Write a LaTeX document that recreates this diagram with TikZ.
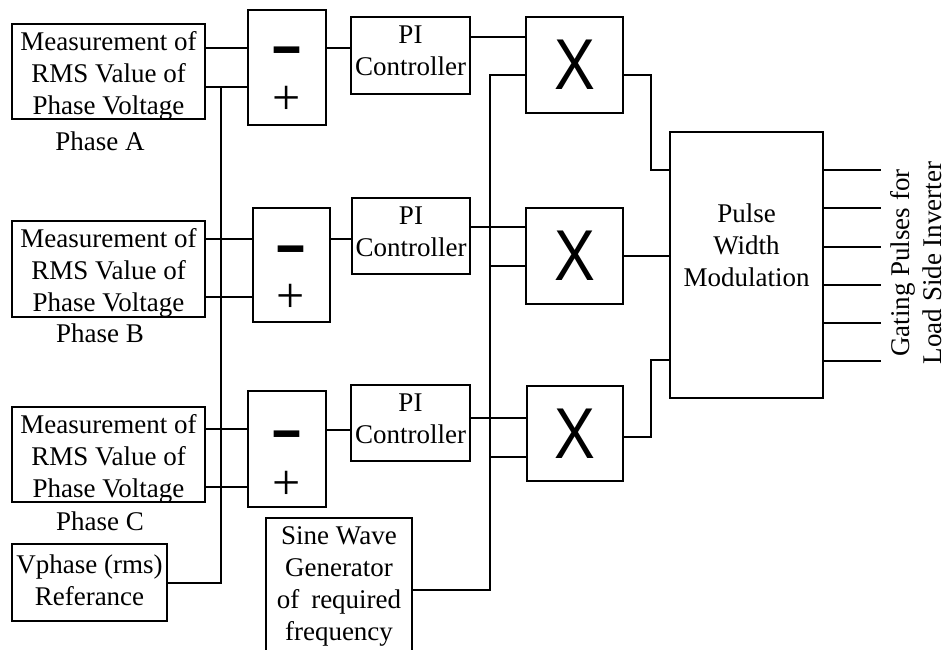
\documentclass[tikz,border=0pt]{standalone}
\usepackage{fontspec}
\usepackage{graphicx}
\setmainfont{Liberation Serif}
\newfontfamily\sansf{Liberation Sans}
\tikzset{
  blk/.style={draw, line width=1.8pt, inner sep=0pt},
  wire/.style={line width=1.8pt},
  txt/.style={inner sep=0pt, align=center, font=\fontsize{27}{32}\selectfont},
  multx/.style={font=\sansf\fontsize{72}{72}\selectfont},
  minussign/.style={inner sep=0pt, anchor=base, font=\sansf\fontsize{84}{84}\selectfont},
  plussign/.style={inner sep=0pt, font=\fontsize{50}{50}\selectfont},
}
\begin{document}
\begin{tikzpicture}[x=1pt,y=-1pt]
\useasboundingbox (0,0) rectangle (946,650);
% measurement boxes
\node[blk, minimum width=193pt, minimum height=95pt] (mA) at (108.5,71.5) {};
\node[txt] (mAt) at (108.5,76.25) {Measurement of\\RMS Value of\\Phase Voltage};
\node[txt] (phA) at (100,140.8) {Phase A};
\node[blk, minimum width=193pt, minimum height=96pt] (mB) at (108.5,269) {};
\node[txt] (mBt) at (108.5,273.25) {Measurement of\\RMS Value of\\Phase Voltage};
\node[txt] (phB) at (100,333) {Phase B};
\node[blk, minimum width=193pt, minimum height=95pt] (mC) at (108.5,454.5) {};
\node[txt] (mCt) at (108.5,459.25) {Measurement of\\RMS Value of\\Phase Voltage};
\node[txt] (phC) at (100,521) {Phase C};
\node[blk, minimum width=155pt, minimum height=77pt] (vref) at (89.5,582.5) {};
\node[txt] (vreft) at (89.5,580.5) {Vphase (rms)\\Referance};
% summing boxes
\node[blk, minimum width=78pt, minimum height=115pt] (sA) at (287,67.5) {};
\node[minussign] (sAm) at (287,73) {\scalebox{1.25}[1]{-}};
\node[plussign] (sAp) at (287,100) {+};
\node[blk, minimum width=77pt, minimum height=114pt] (sB) at (291.5,265) {};
\node[minussign] (sBm) at (291,271) {\scalebox{1.25}[1]{-}};
\node[plussign] (sBp) at (291,298) {+};
\node[blk, minimum width=78pt, minimum height=116pt] (sC) at (287,449) {};
\node[minussign] (sCm) at (287,456) {\scalebox{1.25}[1]{-}};
\node[plussign] (sCp) at (287,485) {+};
% PI controllers
\node[blk, minimum width=119pt, minimum height=77pt] (pA) at (410.5,55.5) {};
\node[txt] (pAt) at (410.5,51) {PI\\Controller};
\node[blk, minimum width=118pt, minimum height=76pt] (pB) at (411,236) {};
\node[txt] (pBt) at (411,232) {PI\\Controller};
\node[blk, minimum width=119pt, minimum height=76pt] (pC) at (410.5,423) {};
\node[txt] (pCt) at (410.5,419) {PI\\Controller};
% multipliers
\node[blk, multx, minimum width=97pt, minimum height=96pt] (xA) at (574.5,65) {\scalebox{0.85}[1]{X}};
\node[blk, multx, minimum width=97pt, minimum height=96pt] (xB) at (574.5,256) {\scalebox{0.85}[1]{X}};
\node[blk, multx, minimum width=96pt, minimum height=95pt] (xC) at (575,433.5) {\scalebox{0.85}[1]{X}};
% sine generator
\node[blk, minimum width=146pt, minimum height=134pt] (sine) at (339,585) {};
\node[txt] (sinet) at (339,586.75) {Sine Wave\\Generator\\of\hspace{12pt}required\\frequency};
% PWM
\node[blk, minimum width=153pt, minimum height=266pt] (pwm) at (746.5,265) {};
\node[txt] (pwmt) at (746.5,244.8) {Pulse\\Width\\Modulation};
\node[txt, rotate=90] (gate) at (915.8,263) {Gating Pulses for\\Load Side Inverter};
% wires: measurement to summing
\draw[wire] (mA.east |- 0,48) -- (sA.west |- 0,48);
\draw[wire] (mA.east |- 0,87) -- (sA.west |- 0,87);
\draw[wire] (mB.east |- 0,239) -- (sB.west |- 0,239);
\draw[wire] (mB.east |- 0,297) -- (sB.west |- 0,297);
\draw[wire] (mC.east |- 0,429) -- (sC.west |- 0,429);
\draw[wire] (mC.east |- 0,487) -- (sC.west |- 0,487);
\coordinate (busTop) at (221,87);
\draw[wire] (vref.east |- 0,583) -| (busTop);
% summing to PI
\draw[wire] (sA.east |- 0,48) -- (pA.west |- 0,48);
\draw[wire] (sB.east |- 0,239) -- (pB.west |- 0,239);
\draw[wire] (sC.east |- 0,430) -- (pC.west |- 0,430);
% PI to multipliers
\draw[wire] (pA.east |- 0,37) -- (xA.west |- 0,37);
\draw[wire] (pB.east |- 0,227) -- (xB.west |- 0,227);
\draw[wire] (pC.east |- 0,418) -- (xC.west |- 0,418);
% sine bus
\coordinate (sbTop) at (490,75);
\coordinate (sbB) at (490,266);
\coordinate (sbC) at (490,457);
\draw[wire] (sine.east |- 0,590) -| (sbTop) -- (xA.west |- sbTop);
\draw[wire] (sbB) -- (xB.west |- sbB);
\draw[wire] (sbC) -- (xC.west |- sbC);
% multipliers to PWM
\coordinate (jA) at (651,170);
\coordinate (jC) at (651,360);
\draw[wire] (xA.east |- 0,75) -| (jA) -- (pwm.west |- jA);
\draw[wire] (xB.east |- 0,256) -- (pwm.west |- 0,256);
\draw[wire] (xC.east |- 0,437) -| (jC) -- (pwm.west |- jC);
% outputs
\foreach \yy [count=\i] in {170,208,247,285,323,361} {
  \coordinate (o\i) at (881,\yy);
  \draw[wire] (pwm.east |- o\i) -- (o\i);
}
\end{tikzpicture}
\end{document}
